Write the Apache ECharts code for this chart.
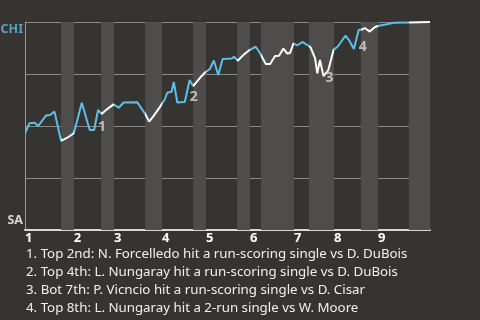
<!DOCTYPE html>
<html>
<head>
<meta charset="utf-8">
<script src="https://cdn.jsdelivr.net/npm/echarts@6/dist/echarts.min.js"></script>
<style>
html,body{margin:0;padding:0;background:#363430;}
#chart{width:480px;height:320px;}
</style>
</head>
<body>
<div id="chart"></div>
<script>
// Game progress (plate-appearance units) and CHI win probability
const progress = [0.0, 1.0, 2.2, 3.0, 4.8, 5.7, 6.7, 8.2, 9.3, 10.2, 11.1, 12.9, 14.7, 15.7, 16.6, 17.4, 18.6, 20.1, 21.3, 22.4,
  25.5, 27.3, 28.2, 29.1, 30.7, 31.8, 32.3, 33.3, 33.8, 34.6, 36.3, 37.4, 38.2, 39.8, 40.9, 42.0, 42.9, 43.9, 44.9, 47.0,
  47.5, 48.3, 49.6, 51.0, 52.4, 53.2, 54.7, 55.7, 56.8, 57.7, 58.7, 59.6, 60.2, 61.0, 61.8, 63.0, 64.3, 64.9, 65.9, 66.4,
  67.0, 67.8, 68.9, 70.1, 71.2, 72.8, 73.6, 74.7, 75.8, 76.6, 77.2, 78.3, 79.5, 80.4, 82.2, 83.8, 87.2, 92.0];
const chiWinProb = [0.465, 0.513, 0.516, 0.500, 0.551, 0.553, 0.569, 0.428, 0.440, 0.452, 0.465, 0.612, 0.481, 0.481, 0.577, 0.558, 0.580, 0.604, 0.588, 0.613,
  0.614, 0.558, 0.521, 0.545, 0.593, 0.630, 0.660, 0.665, 0.712, 0.613, 0.615, 0.721, 0.692, 0.733, 0.757, 0.774, 0.815, 0.745, 0.822, 0.825,
  0.833, 0.814, 0.841, 0.865, 0.881, 0.857, 0.798, 0.798, 0.837, 0.838, 0.872, 0.848, 0.851, 0.897, 0.887, 0.904, 0.887, 0.877, 0.825, 0.753,
  0.817, 0.740, 0.769, 0.865, 0.886, 0.935, 0.913, 0.870, 0.962, 0.964, 0.971, 0.954, 0.976, 0.982, 0.989, 0.996, 0.998, 1.000];
// Half-inning boundaries (top, bottom, top, bottom, ...)
const halfInningBounds = [0, 8.2, 11.1, 17.3, 20.2, 27.3, 31.1, 38.2, 41.1, 48.2, 51.1, 53.6, 61.1, 64.5, 70.2, 76.3, 80.2, 87.2, 92];
const inningLabels = ['1','2','3','4','5','6','7','8','9'];
// Key events: index into the series, label
const eventIndex = [14, 31, 61, 68];
const eventLabels = ['1','2','3','4'];
const teams = ['SA', 'CHI'];
const footnotes = [
  '1. Top 2nd: N. Forcelledo hit a run-scoring single vs D. DuBois',
  '2. Top 4th: L. Nungaray hit a run-scoring single vs D. DuBois',
  '3. Bot 7th: P. Vicncio hit a run-scoring single vs D. Cisar',
  '4. Top 8th: L. Nungaray hit a 2-run single vs W. Moore'
];

const BLUE = '#5bbfea';
const lineData = progress.map((x, i) => [x, chiWinProb[i]]);
const inningStarts = inningLabels.map((_, i) => halfInningBounds[i * 2]);
const bands = [];
const pieces = [];
for (let i = 0; i < halfInningBounds.length - 1; i++) {
  const a = halfInningBounds[i], b = halfInningBounds[i + 1];
  pieces.push({ gte: a, lt: b, color: i % 2 === 0 ? BLUE : '#ffffff' });
  if (i % 2 === 1) bands.push([{ xAxis: a }, { xAxis: b }]);
}
pieces[pieces.length - 1].lte = halfInningBounds[halfInningBounds.length - 1];
delete pieces[pieces.length - 1].lt;

const evOffsets = [[4, 17], [4, 17], [6, 2], [4, 17]];
const eventData = eventIndex.map((idx, k) => ({
  value: lineData[idx],
  label: { formatter: eventLabels[k], offset: evOffsets[k] }
}));

const chart = echarts.init(document.getElementById('chart'), null, { renderer: 'canvas' });
const FONT = 'Noto Sans';
chart.setOption({
  backgroundColor: '#363430',
  animation: false,
  textStyle: { fontFamily: FONT },
  grid: { left: 25, top: 22, right: 50, bottom: 90 },
  title: {
    left: 26, top: 245, padding: 0,
    text: footnotes.join('\n'),
    textStyle: { color: '#f0f0f0', fontSize: 13.3, fontWeight: 'normal', lineHeight: 18, fontFamily: FONT }
  },
  xAxis: {
    type: 'value', min: 0, max: 92,
    axisLine: { show: true, onZero: false, lineStyle: { color: '#d8d8d8', width: 2 } },
    axisTick: { show: false },
    splitLine: { show: false },
    axisLabel: {
      customValues: inningStarts,
      formatter: v => inningLabels[inningStarts.indexOf(v)] || '',
      align: 'left', margin: 2,
      color: '#ffffff', fontWeight: 'bold', fontSize: 13, fontFamily: FONT
    }
  },
  yAxis: {
    type: 'value', min: 0, max: 1, interval: 0.25,
    axisLine: { show: true, lineStyle: { color: '#9a9a9a', width: 1 } },
    axisTick: { show: false },
    axisLabel: { show: false },
    splitLine: { show: true, lineStyle: { color: '#8a8a8a', width: 1 } }
  },
  visualMap: {
    show: false, type: 'piecewise', dimension: 0, seriesIndex: 1, pieces: pieces
  },
  series: [
    {
      type: 'line', data: [], z: -1, silent: true,
      markArea: { silent: true, itemStyle: { color: '#4e4d4b' }, data: bands }
    },
    {
      type: 'line', data: lineData, showSymbol: false, z: 3,
      lineStyle: { width: 2 }
    },
    {
      type: 'scatter', data: eventData, symbolSize: 0, z: 4, silent: true,
      label: { show: true, position: 'inside', color: '#dcdcdc', fontWeight: 'bold', fontSize: 14, fontFamily: FONT }
    },
    {
      type: 'scatter', symbolSize: 0, z: 4, silent: true, clip: false,
      data: [
        { value: [0, 1], label: { formatter: teams[1], color: BLUE, offset: [0, 7] } },
        { value: [0, 0], label: { formatter: teams[0], color: '#ffffff', offset: [0, -10] } }
      ],
      label: { show: true, position: 'left', distance: 2, fontWeight: 'bold', fontSize: 12.5, fontFamily: FONT }
    }
  ]
});
</script>
</body>
</html>
